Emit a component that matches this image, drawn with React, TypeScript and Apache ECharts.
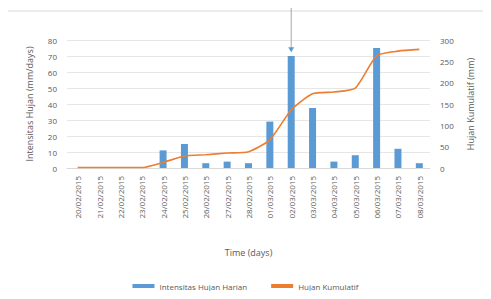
import React, { useEffect, useRef } from "react";
import * as echarts from "echarts";

const categories = [
  "20/02/2015", "21/02/2015", "22/02/2015", "23/02/2015", "24/02/2015",
  "25/02/2015", "26/02/2015", "27/02/2015", "28/02/2015", "01/03/2015",
  "02/03/2015", "03/03/2015", "04/03/2015", "05/03/2015", "06/03/2015",
  "07/03/2015", "08/03/2015",
];
const dailyRain = [0, 0, 0, 0, 11, 15, 3, 4, 3, 29, 70, 37.5, 4, 8, 75, 12, 3];
const cumulativeRain = [1, 1, 1, 1, 13, 28, 31, 35, 38, 66, 136, 174, 178, 187, 263, 274, 278];
const leftTicks = { min: 0, max: 80, interval: 10 };
const rightTicks = { min: 0, max: 300, interval: 50 };
// error-bar style marker above 02/03/2015: [category, lower value, upper value]
const errorMarker = [["02/03/2015", 73, 100]];

const FONT = "'Open Sans', 'Liberation Sans', sans-serif";
const TXT = "#595959";

export default function App() {
  const ref = useRef<HTMLDivElement>(null);
  useEffect(() => {
    if (!ref.current) return;
    const chart = echarts.init(ref.current, null, { renderer: "svg" });
    chart.setOption({
      animation: false,
      backgroundColor: "#ffffff",
      textStyle: { fontFamily: FONT, color: TXT },
      graphic: [
        {
          type: "rect",
          shape: { x: 7, y: 11, width: 500, height: 300 },
          style: { fill: "none", stroke: "#d9d9d9", lineWidth: 1 },
          silent: true,
        },
      ],
      grid: { left: 67, right: 61, top: 40, bottom: 131 },
      legend: {
        bottom: 4,
        left: "center",
        itemWidth: 22,
        itemHeight: 4,
        itemGap: 24,
        textStyle: { fontSize: 8, color: TXT, fontFamily: FONT },
        data: [
          { name: "Intensitas Hujan Harian", icon: "rect" },
          { name: "Hujan Kumulatif", icon: "rect", itemStyle: { color: "#ED7D31" } },
        ],
      },
      xAxis: {
        type: "category",
        data: categories,
        name: "Time (days)",
        nameLocation: "middle",
        nameGap: 80,
        nameTextStyle: { fontSize: 9, color: TXT },
        axisLine: { lineStyle: { color: "#d9d9d9" } },
        axisTick: { show: false },
        axisLabel: { rotate: 90, fontSize: 8, color: TXT, margin: 8 },
      },
      yAxis: [
        {
          type: "value",
          ...leftTicks,
          name: "Intensitas Hujan (mm/days)",
          nameLocation: "middle",
          nameGap: 33,
          nameTextStyle: { fontSize: 9, color: TXT },
          axisLabel: { fontSize: 8, color: TXT, margin: 10 },
          splitLine: { lineStyle: { color: "#e6e6e6" } },
          axisLine: { show: false },
          axisTick: { show: false },
        },
        {
          type: "value",
          ...rightTicks,
          name: "Hujan Kumulatif (mm)",
          nameLocation: "middle",
          nameGap: 36,
          nameRotate: 90,
          nameTextStyle: { fontSize: 9, color: TXT },
          axisLabel: { fontSize: 8, color: TXT, margin: 10 },
          splitLine: { show: false },
          axisLine: { show: false },
          axisTick: { show: false },
        },
      ],
      series: [
        {
          name: "Intensitas Hujan Harian",
          type: "bar",
          data: dailyRain,
          barWidth: 7,
          itemStyle: { color: "#5B9BD5" },
        },
        {
          name: "Hujan Kumulatif",
          type: "line",
          yAxisIndex: 1,
          data: cumulativeRain,
          symbol: "none",
          smooth: 0.2,
          lineStyle: { color: "#ED7D31", width: 1.6 },
          itemStyle: { color: "#ED7D31" },
        },
        {
          name: "marker",
          type: "custom",
          clip: false,
          silent: true,
          data: errorMarker,
          renderItem: (params: any, api: any) => {
            const lo = api.coord([api.value(0), api.value(1)]);
            const hi = api.coord([api.value(0), api.value(2)]);
            return {
              type: "group",
              children: [
                {
                  type: "line",
                  shape: { x1: lo[0], y1: lo[1], x2: hi[0], y2: hi[1] },
                  style: { stroke: "#a6a6a6", lineWidth: 1 },
                },
                {
                  type: "polygon",
                  shape: {
                    points: [
                      [lo[0] - 3, lo[1] - 4],
                      [lo[0] + 3, lo[1] - 4],
                      [lo[0], lo[1] + 1],
                    ],
                  },
                  style: { fill: "#5B9BD5" },
                },
              ],
            };
          },
        },
      ],
    });
    return () => chart.dispose();
  }, []);
  return <div ref={ref} style={{ width: 491, height: 299, margin: -8 }} />;
}
